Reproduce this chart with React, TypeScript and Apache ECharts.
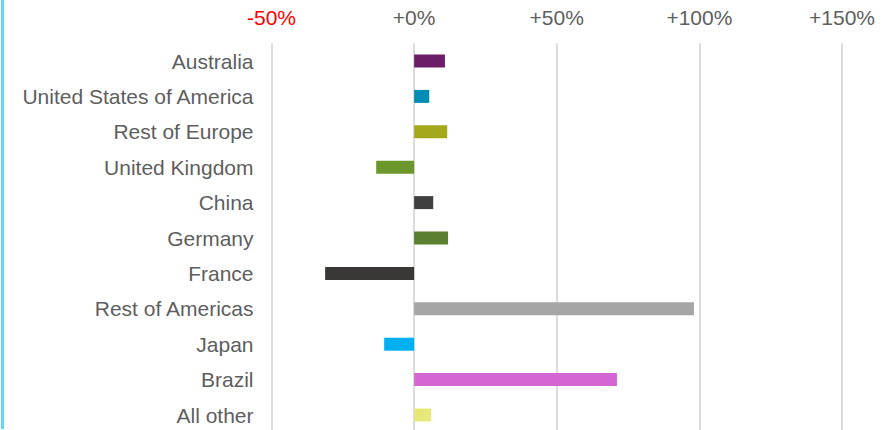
import React, { useEffect, useRef } from "react";
import * as echarts from "echarts";

const categories = [
  "Australia",
  "United States of America",
  "Rest of Europe",
  "United Kingdom",
  "China",
  "Germany",
  "France",
  "Rest of Americas",
  "Japan",
  "Brazil",
  "All other",
];
const values = [10.8, 5.3, 11.6, -13.3, 6.7, 11.9, -31.2, 98.1, -10.5, 71.1, 6.0];
const barColors = [
  "#6c1d67",
  "#008cb4",
  "#a3a91b",
  "#6b972c",
  "#404040",
  "#5a7f30",
  "#3a3836",
  "#a6a6a6",
  "#00b0f0",
  "#d665d4",
  "#e8e87a",
];
const xTicks = [-50, 0, 50, 100, 150];

export default function App() {
  const ref = useRef<HTMLDivElement>(null);
  useEffect(() => {
    if (!ref.current) return;
    const chart = echarts.init(ref.current, undefined, { renderer: "svg" });
    const font = "'Liberation Sans', Arial, Helvetica, sans-serif";
    chart.setOption({
      animation: false,
      graphic: [
        {
          type: "rect",
          shape: { x: 1, y: 0, width: 3, height: 429 },
          style: { fill: "#62d6f8" },
          silent: true,
        },
      ],
      grid: { left: 271.5, right: 45, top: 43.3, height: 389.4, containLabel: false },
      xAxis: {
        type: "value",
        position: "top",
        min: xTicks[0],
        max: xTicks[xTicks.length - 1],
        interval: 50,
        axisLine: { show: false },
        axisTick: { show: false },
        splitLine: { show: true, lineStyle: { color: "#dcdcdc", width: 2 } },
        axisLabel: {
          margin: 15,
          fontFamily: font,
          fontSize: 21,
          color: "#5e5e5e",
          formatter: (v: number) =>
            v < 0 ? `{neg|${v}%}` : `+${v}%`,
          rich: {
            neg: { color: "#ff0000", fontSize: 21, fontFamily: font },
          },
        },
      },
      yAxis: {
        type: "category",
        inverse: true,
        data: categories,
        axisLine: { show: false },
        axisTick: { show: false },
        splitLine: { show: false },
        axisLabel: {
          margin: 18,
          fontFamily: font,
          fontSize: 21,
          color: "#5e5e5e",
        },
      },
      series: [
        {
          type: "bar",
          barWidth: 13,
          data: values.map((v, i) => ({ value: v, itemStyle: { color: barColors[i] } })),
        },
      ],
    });
    return () => chart.dispose();
  }, []);
  return (
    <div
      ref={ref}
      style={{ position: "fixed", left: 0, top: 0, width: 887, height: 440, background: "#fff" }}
    />
  );
}
